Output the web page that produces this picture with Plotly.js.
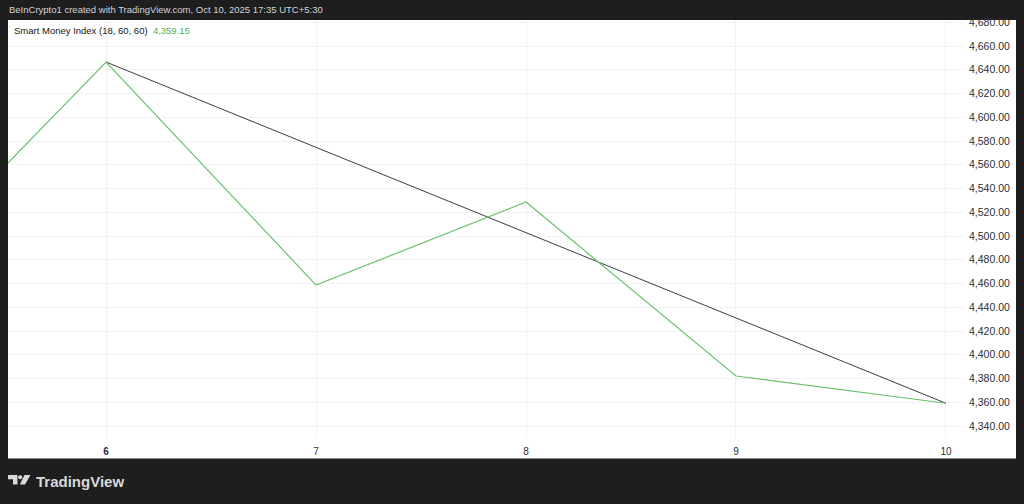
<!DOCTYPE html>
<html>
<head>
<meta charset="utf-8">
<script src="https://cdn.plot.ly/plotly-3.0.1.min.js"></script>
<style>html,body{margin:0;padding:0;background:#1e1e1e;}#chart{width:1024px;height:504px;}</style>
</head>
<body>
<div id="chart"></div>
<script>
// ---- data ----
const days = [5, 6, 7, 8, 9, 10];
const smiValues = [4464.5, 4646.5, 4458.7, 4528.6, 4382.1, 4359.15];
const trendDays = [6, 10];
const trendValues = [4646.5, 4359.15];
const xTickVals = [6, 7, 8, 9, 10];
const xTickText = ['<b>6</b>', '7', '8', '9', '10'];
const yTickVals = [4340, 4360, 4380, 4400, 4420, 4440, 4460, 4480, 4500, 4520, 4540, 4560, 4580, 4600, 4620, 4640, 4660, 4680];
const yTickText = yTickVals.map(v => v.toLocaleString('en-US', {minimumFractionDigits: 2, maximumFractionDigits: 2}));
const headerText = 'BeInCrypto1 created with TradingView.com, Oct 10, 2025 17:35 UTC+5:30';
const legendName = 'Smart Money Index (18, 60, 60)';
const lastValueText = '4,359.15';

// ---- layout helpers (pixel -> paper) ----
const L = 8, R = 964, T = 20, B = 438, W = 1024, H = 504;
const pw = R - L, ph = B - T;
const px = x => (x - L) / pw;
const py = y => 1 - (y - T) / ph;

const FONT = '"Liberation Sans", Arial, sans-serif';

const traces = [
  {x: trendDays, y: trendValues, mode: 'lines', line: {color: '#3d3d3d', width: 1}, hoverinfo: 'skip', showlegend: false},
  {x: days, y: smiValues, mode: 'lines', line: {color: '#6cc070', width: 1.2}, hoverinfo: 'skip', showlegend: false}
];

function poly(pts) {
  return 'M' + pts.map(p => px(p[0]) + ',' + py(p[1])).join(' L') + ' Z';
}

const layout = {
  width: W, height: H,
  margin: {l: L, r: W - R, t: T, b: H - B, pad: 0},
  paper_bgcolor: '#1e1e1e',
  plot_bgcolor: '#ffffff',
  font: {family: FONT, size: 10, color: '#131722'},
  showlegend: false,
  xaxis: {
    range: [5.533, 10.086],
    tickvals: xTickVals, ticktext: xTickText,
    showgrid: true, gridcolor: '#f2f2f2', gridwidth: 1,
    zeroline: false, showline: false,
    ticks: 'outside', ticklen: 4, tickcolor: 'rgba(0,0,0,0)',
    tickfont: {family: FONT, size: 10, color: '#2a2e39'},
    fixedrange: true
  },
  yaxis: {
    side: 'right',
    range: [4329.9, 4681.9],
    tickvals: yTickVals, ticktext: yTickText,
    showgrid: true, gridcolor: '#f2f2f2', gridwidth: 1,
    zeroline: false, showline: false, ticks: '',
    ticklabelstandoff: 4,
    tickfont: {family: FONT, size: 10.5, color: '#2a2e39'},
    fixedrange: true
  },
  shapes: [
    {type: 'rect', xref: 'paper', yref: 'paper', x0: px(8), x1: px(1016), y0: py(459), y1: py(20), fillcolor: '#ffffff', line: {width: 0}, layer: 'below'},
    {type: 'line', xref: 'paper', yref: 'paper', x0: px(8), x1: px(1016), y0: py(458.5), y1: py(458.5), line: {color: '#8c8c8c', width: 1}},
    {type: 'path', xref: 'paper', yref: 'paper', path: poly([[8,475],[17.5,475],[17.5,484.5],[13,484.5],[13,479.2],[8,479.2]]), fillcolor: '#d9d9d9', line: {width: 0}},
    {type: 'circle', xref: 'paper', yref: 'paper', x0: px(18.2), x1: px(22.2), y0: py(479.3), y1: py(475.3), fillcolor: '#d9d9d9', line: {width: 0}},
    {type: 'path', xref: 'paper', yref: 'paper', path: poly([[24.5,475],[30.5,475],[25,484.5],[19.8,484.5]]), fillcolor: '#d9d9d9', line: {width: 0}}
  ],
  annotations: [
    {xref: 'paper', yref: 'paper', x: px(7), y: py(10), xanchor: 'left', yanchor: 'middle', showarrow: false,
     text: headerText, font: {family: FONT, size: 9.5, color: '#d1d4dc'}},
    {xref: 'paper', yref: 'paper', x: px(12), y: py(31), xanchor: 'left', yanchor: 'middle', showarrow: false,
     text: legendName + '  <span style="color:#4caf50">' + lastValueText + '</span>', font: {family: FONT, size: 9.5, color: '#131722'}},
    {xref: 'paper', yref: 'paper', x: px(34), y: py(481), xanchor: 'left', yanchor: 'middle', showarrow: false,
     text: '<b>TradingView</b>', font: {family: FONT, size: 15, color: '#d9d9d9'}}
  ]
};

Plotly.newPlot('chart', traces, layout, {staticPlot: true, displayModeBar: false});
</script>
</body>
</html>
